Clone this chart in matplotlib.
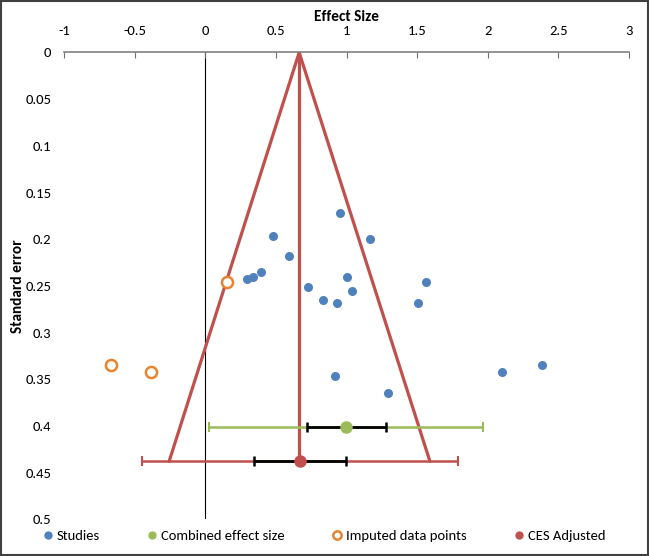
import matplotlib
matplotlib.use("Agg")
import matplotlib.pyplot as plt
from matplotlib.lines import Line2D
from matplotlib.patches import Rectangle

plt.rcParams["font.family"] = ["Carlito", "Liberation Sans Narrow", "Liberation Sans", "DejaVu Sans"]

# studies (effect size, standard error)
study_es = [0.953, 1.166, 0.477, 0.594, 0.392, 0.340, 0.297, 1.003, 1.040, 0.725,
            0.831, 0.934, 1.562, 1.505, 0.921, 2.100, 2.383, 1.293]
study_se = [0.172, 0.200, 0.197, 0.218, 0.235, 0.240, 0.243, 0.240, 0.255, 0.251,
            0.265, 0.268, 0.246, 0.268, 0.347, 0.342, 0.335, 0.365]

# trim-and-fill imputed points
imputed_es = [0.151, -0.667, -0.384]
imputed_se = [0.246, 0.335, 0.342]

# combined effect size: estimate, SE row, CI (black) and prediction interval (green)
ces = 0.996
ces_se = 0.401
ces_ci = [0.718, 1.277]
ces_pi = [0.029, 1.965]

# adjusted combined effect size
adj = 0.668
adj_se = 0.4376
adj_ci = [0.347, 0.994]
adj_pi = [-0.450, 1.791]

# funnel outline: apex and base corners
funnel_x = [-0.255, 0.665, 1.590]
funnel_y = [adj_se, 0.0, adj_se]

blue = "#4F81BD"
green = "#9BBB59"
orange = "#E8832F"
red = "#C0504D"

fig = plt.figure(figsize=(6.49, 5.56), dpi=100)
ax = fig.add_axes([64 / 649, 1 - 519.3 / 556, 565 / 649, 466.8 / 556])

ax.plot(funnel_x, funnel_y, color=red, lw=2.3, zorder=2)
ax.plot([funnel_x[1], funnel_x[1]], [0.0, adj_se], color=red, lw=2.3, zorder=2)
ax.axvline(0, color="black", lw=0.8, zorder=1)

# prediction intervals
ax.errorbar(ces, ces_se, xerr=[[ces - ces_pi[0]], [ces_pi[1] - ces]], fmt="none",
            ecolor=green, elinewidth=1.8, capsize=3.5, capthick=1.5, zorder=3)
ax.errorbar(adj, adj_se, xerr=[[adj - adj_pi[0]], [adj_pi[1] - adj]], fmt="none",
            ecolor=red, elinewidth=1.8, capsize=3.5, capthick=1.5, zorder=3)
# confidence intervals
ax.errorbar(ces, ces_se, xerr=[[ces - ces_ci[0]], [ces_ci[1] - ces]], fmt="none",
            ecolor="black", elinewidth=2, capsize=3.5, capthick=1.8, zorder=4)
ax.errorbar(adj, adj_se, xerr=[[adj - adj_ci[0]], [adj_ci[1] - adj]], fmt="none",
            ecolor="black", elinewidth=2, capsize=3.5, capthick=1.8, zorder=4)

ax.plot(study_es, study_se, "o", color=blue, ms=6.5, mec="none", zorder=5)
ax.plot(imputed_es, imputed_se, "o", mfc="white", mec=orange, mew=1.8, ms=8, zorder=5)
ax.plot([ces], [ces_se], "o", color=green, ms=9, mec="none", zorder=6)
ax.plot([adj], [adj_se], "o", color=red, ms=9, mec="none", zorder=6)

ax.set_xlim(-1, 3)
ax.set_ylim(0.5, 0)
ax.set_xticks([-1, -0.5, 0, 0.5, 1, 1.5, 2, 2.5, 3])
ax.set_xticklabels(["-1", "-0.5", "0", "0.5", "1", "1.5", "2", "2.5", "3"])
ax.set_yticks([0, 0.05, 0.1, 0.15, 0.2, 0.25, 0.3, 0.35, 0.4, 0.45, 0.5])
ax.set_yticklabels(["0", "0.05", "0.1", "0.15", "0.2", "0.25", "0.3", "0.35", "0.4", "0.45", "0.5"])
ax.xaxis.tick_top()
ax.xaxis.set_label_position("top")
ax.tick_params(axis="x", direction="in", length=4, color="#707070", labelsize=10.5, pad=11)
ax.tick_params(axis="y", length=0, labelsize=10.5, pad=9)
for s in ["left", "right", "bottom"]:
    ax.spines[s].set_visible(False)
ax.spines["top"].set_color("#808080")
ax.spines["top"].set_linewidth(1.2)
ax.set_xlabel("Effect Size", fontsize=11, fontweight="bold", labelpad=3)
ax.set_ylabel("Standard error", fontsize=11, fontweight="bold", labelpad=0)

handles = [
    Line2D([], [], ls="none", marker="o", color=blue, mec="none", ms=6),
    Line2D([], [], ls="none", marker="o", color=green, mec="none", ms=6),
    Line2D([], [], ls="none", marker="o", mfc="white", mec=orange, mew=1.8, ms=6),
    Line2D([], [], ls="none", marker="o", color=red, mec="none", ms=6),
]
labels = ["Studies", "Combined effect size", "Imputed data points", "CES Adjusted"]
fig.legend(handles, labels, loc="center", bbox_to_anchor=(0.50, 1 - 536 / 556), ncol=4,
           frameon=False, fontsize=10.5, handlelength=0.6, handletextpad=0.3,
           columnspacing=3.3)

fig.patches.append(Rectangle((0.002, 0.002), 0.996, 0.996, transform=fig.transFigure,
                             fill=False, edgecolor="#404040", lw=1.5))

fig.savefig("out.png", dpi=100)
